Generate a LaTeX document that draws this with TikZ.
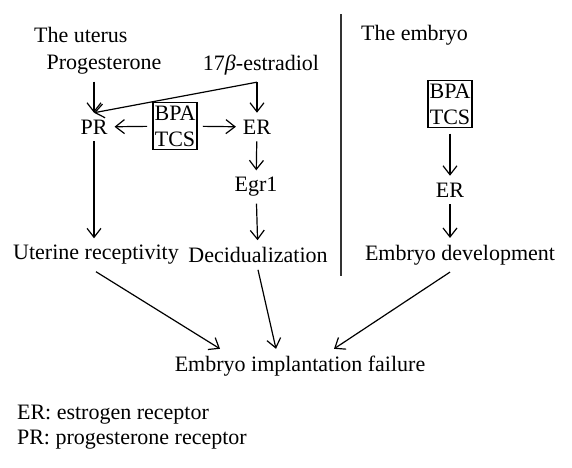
\documentclass[tikz,border=0pt]{standalone}
\usepackage{fontspec}
\setmainfont{Liberation Serif}
\usetikzlibrary{arrows.meta}

\begin{document}
\begin{tikzpicture}[x=0.5pt, y=-0.5pt, font=\fontsize{11}{13}\selectfont,
        >={Straight Barb[length=4.5pt,width=7pt]},
        chem/.style={draw, semithick, inner xsep=0.8pt, inner ysep=1.6pt, outer sep=3pt, align=center}]
        \useasboundingbox (0,0) rectangle (572,467);
        % The uterus
        \node[anchor=west] (uterus) at (27,35) {The uterus};
        \node (prog) at (104,65) {Progesterone};
        \node (estr) at (261,65) {17\textit{β}-estradiol};
        \node (pr) at (94,127) {PR};
        \node[chem] (bpa1) at (175,126) {BPA\\TCS};
        \node (er1) at (257,127) {ER};
        \node (egr) at (256,187) {Egr1};
        \node (recep) at (96,255) {Uterine receptivity};
        \node (decid) at (258,255) {Decidualization};
        \coordinate (split) at (er1 |- estr.south);
        
        \draw[->, semithick] (pr |- prog.south) -- (pr.north);
        \draw[->, semithick] (split) -- (er1.north);
        \draw[->, semithick] (split) -- (pr.north);
        \draw[->, semithick] (bpa1) -- (pr);
        \draw[->, semithick] (bpa1) -- (er1);
        \draw[->, semithick] (er1) -- (egr);
        \draw[->, semithick] (egr) -- (decid);
        \draw[->, semithick] (pr.south) -- (recep.north -| pr);
        
        % divider
        \draw[line width=0.8pt, black!80] (341,14) -- (341,276);
        
        % The embryo
        \node[anchor=west] (embryo) at (354,35) {The embryo};
        \node[chem] (bpa2) at (450,104) {BPA\\TCS};
        \node (er2) at (450,190) {ER};
        \node (dev) at (460,255) {Embryo development};
        
        \draw[->, semithick] (bpa2) -- (er2);
        \draw[->, semithick] (er2) -- (er2 |- dev.north);
        
        % outcome
        \node (fail) at (300,366) {Embryo implantation failure};
        \draw[->, semithick] (recep.south) -- ([xshift=-40pt]fail.north);
        \draw[->, semithick] (decid.south) -- ([xshift=-12pt]fail.north);
        \draw[->, semithick] (dev.south -| er2) -- ([xshift=17pt]fail.north);
        
        % legend
        \node[anchor=west] (leg1) at (10,415) {ER: estrogen receptor};
        \node[anchor=west] (leg2) at (10,440) {PR: progesterone receptor};
    \end{tikzpicture}
\end{document}
